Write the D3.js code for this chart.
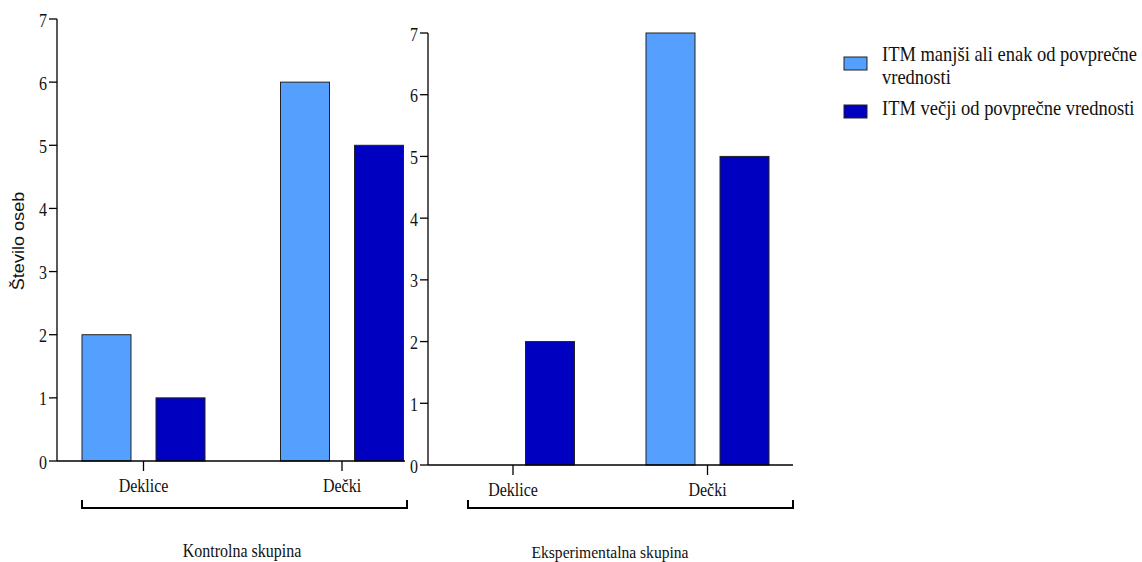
<!doctype html>
<html>
<head>
  <meta charset="utf-8">
  <title>ITM po skupinah</title>
  <style>
    html, body { margin: 0; padding: 0; background: #fff; }
    svg { display: block; }
  </style>
</head>
<body>
  <svg id="chart"></svg>

  <script src="https://d3js.org/d3.v7.min.js"></script>
  <script>
    // ---- data ----
    const categories = ["Deklice", "Dečki"];
    const series = ["low", "high"];
    const legendLines = [
      ["ITM manjši ali enak od povprečne", "vrednosti"],
      ["ITM večji od povprečne vrednosti"]
    ];
    const groupTitles = ["Kontrolna skupina", "Eksperimentalna skupina"];
    const kontrolnaLow = [2, 6];
    const kontrolnaHigh = [1, 5];
    const eksperimentalnaLow = [0, 7];
    const eksperimentalnaHigh = [2, 5];
    const yTicks = [0, 1, 2, 3, 4, 5, 6, 7];
    const yTitle = "Število oseb";

    const colors = { low: "#55a0ff", high: "#0000c0" };
    const serif = "'Times New Roman', 'Liberation Serif', Times, serif";
    const sans = "Arial, 'Liberation Sans', sans-serif";
    const stretch = 1.13; // text in the original is slightly tall

    const width = 1142, height = 562;
    const svg = d3.select("#chart").attr("width", width).attr("height", height);

    // panel layouts
    const panels = [
      { low: kontrolnaLow, high: kontrolnaHigh, title: groupTitles[0],
        x0: 57, x1: 405, y0: 461, y1: 19, c0: 143.5, c1: 342,
        br0: 82, br1: 407, titleX: 242, titleY: 557, titleSize: 16 },
      { low: eksperimentalnaLow, high: eksperimentalnaHigh, title: groupTitles[1],
        x0: 428, x1: 793, y0: 465, y1: 33, c0: 513, c1: 707.5,
        br0: 468, br1: 793, titleX: 610, titleY: 558, titleSize: 15.6 }
    ];

    function label(g, x, y, str, anchor, size) {
      return g.append("text")
          .attr("transform", `translate(${x},${y}) scale(1,${stretch})`)
          .attr("text-anchor", anchor || "middle")
          .attr("font-family", serif)
          .attr("font-size", size || 16)
          .attr("fill", "#111")
          .text(str);
    }

    panels.forEach(p => {
      const g = svg.append("g");

      const y = d3.scaleLinear().domain([0, 7]).range([p.y0, p.y1]);
      const x = d3.scalePoint().domain(categories).range([p.c0, p.c1]);
      const xs = d3.scaleBand().domain(series).range([-61.5, 61.5]).paddingInner(0.338);

      // bars
      const rows = [];
      categories.forEach((c, i) => {
        rows.push({ cat: c, s: "low", v: p.low[i] });
        rows.push({ cat: c, s: "high", v: p.high[i] });
      });
      g.selectAll("rect.bar")
        .data(rows.filter(d => d.v > 0))
        .join("rect")
          .attr("class", "bar")
          .attr("x", d => x(d.cat) + xs(d.s))
          .attr("y", d => y(d.v))
          .attr("width", xs.bandwidth())
          .attr("height", d => y(0) - y(d.v))
          .style("fill", d => colors[d.s])
          .style("stroke", "#222")
          .style("stroke-width", 1);

      // y axis
      g.append("line")
          .attr("x1", p.x0).attr("x2", p.x0)
          .attr("y1", y(0)).attr("y2", y(7))
          .style("stroke", "#000").style("stroke-width", 1.3);
      yTicks.forEach(t => {
        g.append("line")
            .attr("x1", p.x0 - 8).attr("x2", p.x0)
            .attr("y1", y(t)).attr("y2", y(t))
            .style("stroke", "#000").style("stroke-width", 1.3);
        label(g, p.x0 - 10, y(t) + 7.5, t, "end");
      });

      // x axis
      g.append("line")
          .attr("x1", p.x0).attr("x2", p.x1)
          .attr("y1", y(0)).attr("y2", y(0))
          .style("stroke", "#000").style("stroke-width", 1.3);
      categories.forEach(c => {
        g.append("line")
            .attr("x1", x(c)).attr("x2", x(c))
            .attr("y1", y(0)).attr("y2", y(0) + 10)
            .style("stroke", "#000").style("stroke-width", 1.3);
        label(g, x(c), y(0) + 31, c);
      });

      // bracket
      g.append("path")
          .attr("d", `M${p.br0},500V508H${p.br1}V500`)
          .style("fill", "none").style("stroke", "#000").style("stroke-width", 2);

      label(g, p.titleX, p.titleY, p.title, "middle", p.titleSize);
    });

    // y title
    svg.append("text")
        .attr("transform", `translate(24,241) scale(1,${stretch}) rotate(-90)`)
        .attr("text-anchor", "middle")
        .attr("font-family", sans)
        .attr("font-size", 16)
        .attr("fill", "#111")
        .text(yTitle);

    // legend
    const legend = svg.append("g");
    const swY = [57, 105];
    const lineY = [[61, 84], [115]];
    series.forEach((s, i) => {
      legend.append("rect")
          .attr("x", 844).attr("y", swY[i])
          .attr("width", 23).attr("height", 13)
          .style("fill", colors[s])
          .style("stroke", "#222").style("stroke-width", 1);
      legendLines[i].forEach((ln, j) => {
        label(legend, 882, lineY[i][j], ln, "start", 18.5);
      });
    });
  </script>
</body>
</html>
